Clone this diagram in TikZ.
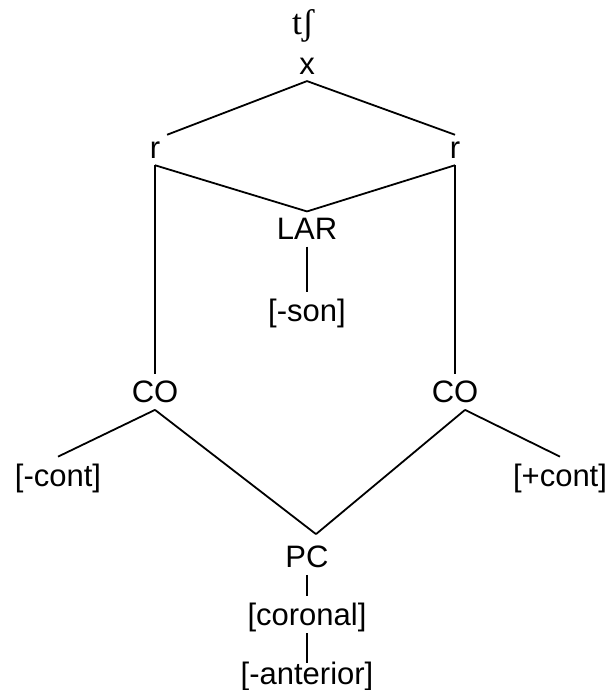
\documentclass[tikz,border=0pt]{standalone}
\usepackage{fontspec}
\setmainfont{Liberation Sans}
\newfontfamily\ipafont{Liberation Serif}
\usepackage{tikz}

\begin{document}
\begin{tikzpicture}[x=0.5pt,y=-0.5pt,line width=0.9pt,
  every node/.style={font=\fontsize{15.5}{18}\selectfont, inner sep=3pt}]
\useasboundingbox (0,0) rectangle (611,690);
\node (seg) at (303,26) {\ipafont\fontsize{18}{20}\selectfont tʃ};
\node (rootX) at (307,66) {x};
\node (rLeft) at (155,150) {r};
\node (rRight) at (455,150) {r};
\node (lar) at (307,229) {LAR};
\node (son) at (307,313) {[-son]};
\node (coLeft) at (155,392) {CO};
\node (coRight) at (455,392) {CO};
\node (contMinus) at (58,478) {[-cont]};
\node (contPlus) at (560,478) {[+cont]};
\node (pc) at (307,557) {PC};
\node (coronal) [node distance=30pt, below of=pc] {[coronal]};
\node (anterior) [node distance=29.5pt, below of=coronal] {[-anterior]};

\draw (rootX.south) -- (rLeft.north east);
\draw (rootX.south) -- (rRight.north);
\draw (rLeft.south) -- (lar.north);
\draw (rRight.south) -- (lar.north);
\draw (rLeft.south) -- (coLeft.north);
\draw (rRight.south) -- (coRight.north);
\draw (lar) -- (son);
\draw (coLeft.south) -- (contMinus.north);
\draw (coLeft.south) -- ([shift={(4.5pt,2.5pt)}]pc.north);
\draw ([xshift=5pt]coRight.south) -- ([shift={(4.5pt,2.5pt)}]pc.north);
\draw ([xshift=5pt]coRight.south) -- (contPlus.north);
\draw (pc) -- (coronal);
\draw ([yshift=-4pt]coronal.base) -- ([yshift=-4pt]anterior.north);
\end{tikzpicture}
\end{document}
